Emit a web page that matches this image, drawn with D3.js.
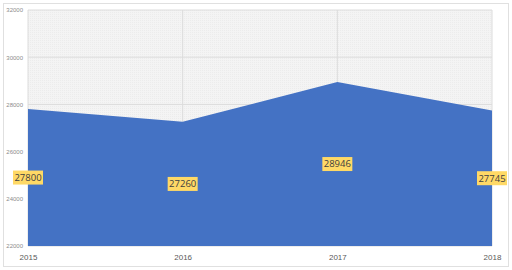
<!DOCTYPE html>
<html>
<head>
<meta charset="utf-8">
<script src="https://cdn.jsdelivr.net/npm/d3@7"></script>
<style>
  body { margin: 0; background: #fff; }
  svg { display: block; font-family: "Open Sans", "Noto Sans", sans-serif; }
</style>
</head>
<body>
<div id="chart"></div>
<script>
// data
var years = ["2015", "2016", "2017", "2018"];
var values = [27800, 27260, 28946, 27745];
var yTicks = [22000, 24000, 26000, 28000, 30000, 32000];

var W = 512, H = 270;
var margin = {top: 10, right: 20, bottom: 24, left: 28},
    width = W - margin.left - margin.right,
    height = H - margin.top - margin.bottom;

var root = d3.select("#chart")
    .append("svg")
    .attr("width", W)
    .attr("height", H);

// outer frame
root.append("rect")
    .attr("x", 3.5).attr("y", 3.5)
    .attr("width", W - 7).attr("height", H - 7)
    .attr("fill", "#fff")
    .attr("stroke", "#e0e0e0");

// dotted background pattern like the picture
var defs = root.append("defs");
var pat = defs.append("pattern")
    .attr("id", "dots")
    .attr("width", 2).attr("height", 2)
    .attr("patternUnits", "userSpaceOnUse");
pat.append("rect").attr("width", 2).attr("height", 2).attr("fill", "#f4f4f4");
pat.append("rect").attr("width", 1).attr("height", 1).attr("fill", "#ececec");

var svg = root.append("g")
    .attr("transform", "translate(" + margin.left + "," + margin.top + ")");

var x = d3.scalePoint()
    .domain(years)
    .range([0, width]);

var y = d3.scaleLinear()
    .domain([22000, 32000])
    .range([height, 0]);

svg.append("rect")
    .attr("width", width)
    .attr("height", height)
    .attr("fill", "url(#dots)");

// gridlines
svg.append("g")
    .selectAll("line.h")
    .data(yTicks)
    .enter()
    .append("line")
    .attr("x1", 0).attr("x2", width)
    .attr("y1", function(d) { return y(d); })
    .attr("y2", function(d) { return y(d); })
    .attr("stroke", "#dcdcdc");
svg.append("g")
    .selectAll("line.v")
    .data(years)
    .enter()
    .append("line")
    .attr("y1", 0).attr("y2", height)
    .attr("x1", function(d) { return x(d); })
    .attr("x2", function(d) { return x(d); })
    .attr("stroke", "#dcdcdc");

// the area
var data = years.map(function(d, i) { return {year: d, value: values[i]}; });
var area = d3.area()
    .x(function(d) { return x(d.year); })
    .y0(height)
    .y1(function(d) { return y(d.value); });
svg.append("path")
    .datum(data)
    .attr("d", area)
    .attr("fill", "#4472c4");

// axes
var yAxis = svg.append("g")
    .call(d3.axisLeft(y).tickValues(yTicks).tickSize(0).tickPadding(5).tickFormat(d3.format("d")));
yAxis.select(".domain").remove();
yAxis.selectAll("text")
    .style("font-size", "6px")
    .style("fill", "#8c8c8c");

var xAxis = svg.append("g")
    .attr("transform", "translate(0," + height + ")")
    .call(d3.axisBottom(x).tickSize(0).tickPadding(8));
xAxis.select(".domain").remove();
xAxis.selectAll("text")
    .style("font-size", "8px")
    .style("fill", "#595959");

// data labels, centred in the area
var lab = svg.append("g")
    .selectAll("g")
    .data(data)
    .enter()
    .append("g")
    .attr("transform", function(d) {
        return "translate(" + x(d.year) + "," + ((y(d.value) + height) / 2) + ")";
    });
lab.append("rect")
    .attr("x", -15).attr("y", -7)
    .attr("width", 30).attr("height", 14)
    .attr("fill", "#ffd966");
lab.append("text")
    .attr("text-anchor", "middle")
    .attr("dy", "0.35em")
    .style("font-size", "9.5px")
    .style("fill", "#404040")
    .text(function(d) { return d.value; });
</script>
</body>
</html>
